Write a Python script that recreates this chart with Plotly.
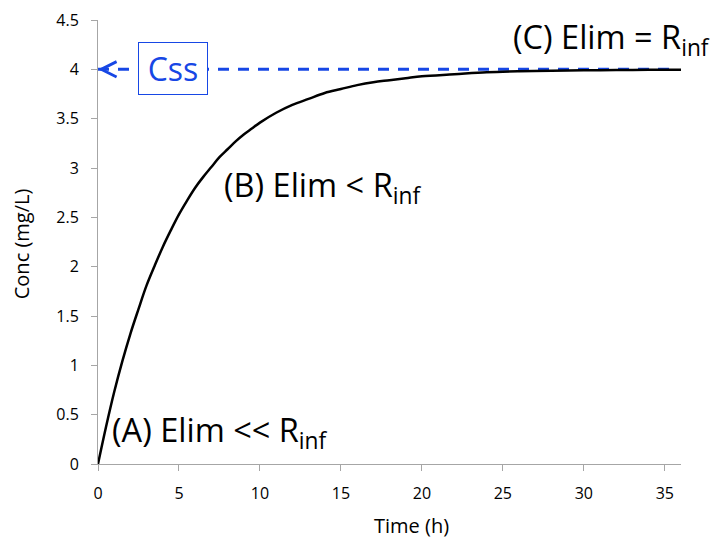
import plotly.graph_objects as go

# Data
time_h = [0, 0.5, 1, 1.5, 2, 2.5, 3, 3.5, 4, 4.5, 5, 5.5, 6, 6.5, 7, 7.5, 8, 8.5, 9, 9.5,
          10, 11, 12, 13, 14, 15, 16, 17, 18, 19, 20, 22, 24, 26, 28, 30, 32, 34, 36]
conc_mg_l = [0.0, 0.38, 0.73, 1.04, 1.32, 1.57, 1.81, 2.01, 2.20, 2.37, 2.53, 2.67, 2.80,
             2.91, 3.01, 3.11, 3.19, 3.27, 3.34, 3.40, 3.46, 3.56, 3.64, 3.70, 3.76,
             3.80, 3.84, 3.87, 3.89, 3.91, 3.93, 3.95, 3.97, 3.98, 3.985, 3.99, 3.993,
             3.995, 3.997]
css_level = 4.0
css_x = [0, 35.64]
x_ticks = [0, 5, 10, 15, 20, 25, 30, 35]
y_ticks = [0, 0.5, 1, 1.5, 2, 2.5, 3, 3.5, 4, 4.5]
y_tick_labels = ["0", "0.5", "1", "1.5", "2", "2.5", "3", "3.5", "4", "4.5"]

FONT = "Open Sans"
BLUE = "#1747E5"
AXIS = "#a6a6a6"

fig = go.Figure()
fig.add_trace(go.Scatter(x=css_x, y=[css_level, css_level], mode="lines",
                         line=dict(color=BLUE, width=3, dash="11px,9px"),
                         hoverinfo="skip", cliponaxis=False))
fig.add_trace(go.Scatter(x=time_h, y=conc_mg_l, mode="lines",
                         line=dict(color="black", width=2.5, shape="spline"),
                         cliponaxis=False))

ann_font = dict(family=FONT, size=32.5, color="black")
fig.add_annotation(x=0, y=css_level, ax=0.5, ay=css_level, xref="x", yref="y",
                   axref="x", ayref="y", text="", showarrow=True, arrowhead=5,
                   arrowsize=1.2, arrowwidth=2.5, arrowcolor=BLUE)
fig.add_annotation(x=4.61, y=4.008, xref="x", yref="y", text="Css",
                   showarrow=False, font=dict(family=FONT, size=32, color=BLUE),
                   bgcolor="white", bordercolor=BLUE, borderwidth=1,
                   width=66, height=49)
fig.add_annotation(x=0.74, y=0.33, xref="x", yref="y", xanchor="left", yanchor="middle",
                   text="(A) Elim << R<sub>inf</sub>", showarrow=False, font=ann_font)
fig.add_annotation(x=7.66, y=2.81, xref="x", yref="y", xanchor="left", yanchor="middle",
                   text="(B) Elim < R<sub>inf</sub>", showarrow=False, font=ann_font)
fig.add_annotation(x=25.5, y=4.31, xref="x", yref="y", xanchor="left", yanchor="middle",
                   text="(C) Elim = R<sub>inf</sub>", showarrow=False, font=ann_font)

# axis titles
fig.add_annotation(x=0.537, y=-0.139, xref="paper", yref="paper", xanchor="center",
                   yanchor="middle", text="Time (h)", showarrow=False,
                   font=dict(family=FONT, size=20, color="black"))
fig.add_annotation(x=-0.132, y=0.495, xref="paper", yref="paper", xanchor="center",
                   yanchor="middle", text="Conc (mg/L)", textangle=-90, showarrow=False,
                   font=dict(family=FONT, size=20, color="black"))

fig.update_layout(
    width=710, height=538,
    margin=dict(l=98, r=29, t=20, b=74, autoexpand=False),
    paper_bgcolor="white", plot_bgcolor="white",
    showlegend=False,
    font=dict(family=FONT, size=16, color="black"),
)
fig.update_xaxes(range=[0, 36], tickvals=x_ticks, showgrid=False, zeroline=False,
                 showline=True, linecolor=AXIS, linewidth=1, ticks="outside",
                 tickcolor=AXIS, ticklen=6, tickfont=dict(size=16),
                 ticklabelstandoff=9, automargin=False)
fig.update_yaxes(range=[0, 4.5], tickvals=y_ticks, ticktext=y_tick_labels,
                 showgrid=False, zeroline=False, showline=True, linecolor=AXIS,
                 linewidth=1, ticks="outside", tickcolor=AXIS, ticklen=6,
                 tickfont=dict(size=16), ticklabelstandoff=9, automargin=False)

fig.write_html("out.html", config={"displayModeBar": False},
               post_script="document.body.style.margin='0';"
                           "document.body.style.overflow='hidden';")
